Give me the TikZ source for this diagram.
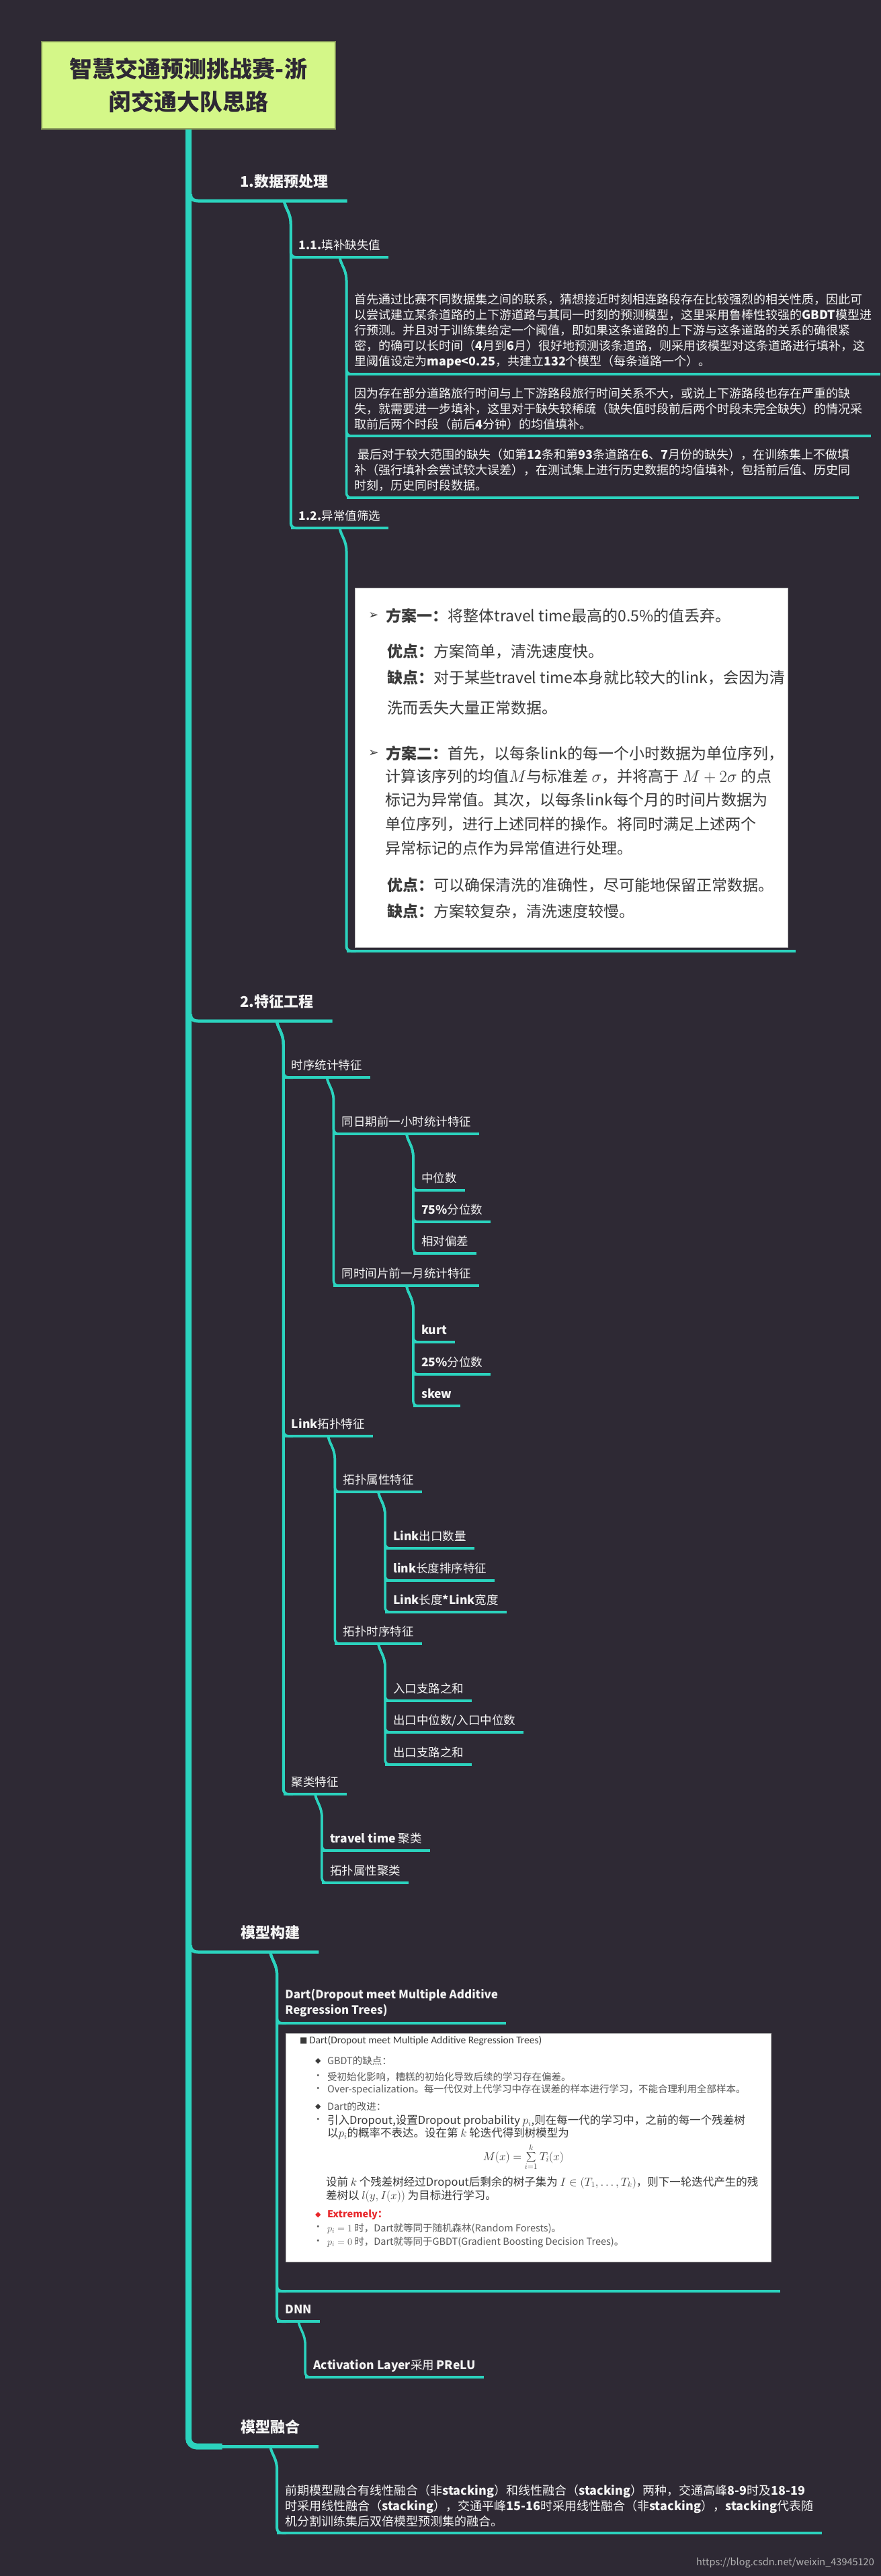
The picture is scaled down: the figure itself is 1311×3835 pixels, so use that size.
\documentclass[tikz,border=0pt]{standalone}
\usepackage{fontspec}
\setmainfont{Noto Sans CJK SC}
\newfontfamily\dejavu{DejaVu Sans}
\newfontfamily\carlito{Carlito}
\usetikzlibrary{calc}

\definecolor{bgcol}{HTML}{2E2934}
\definecolor{linecol}{HTML}{2BD3BE}
\definecolor{titlecol}{HTML}{D4F788}
\definecolor{titleedge}{HTML}{7E8F55}
\definecolor{titletext}{HTML}{2E2934}
\definecolor{labelcol}{HTML}{F4F4F4}
\definecolor{imgtext}{HTML}{3A3A3A}
\definecolor{imggray}{HTML}{5A5A5A}
\definecolor{imgred}{HTML}{E8262A}
\definecolor{markcol}{HTML}{B4B4B4}

\tikzset{
  trunk/.style={line width=9pt, draw=linecol},
  mainline/.style={line width=5pt, draw=linecol},
  conn/.style={line width=#1, draw=linecol, rounded corners=7pt},
  conn/.default=3.5pt,
  ul/.style={line width=#1, draw=linecol},
  ul/.default=3.5pt,
  titlebox/.style={fill=titlecol, draw=titleedge, line width=1.2pt, minimum width=437pt,
    minimum height=130pt, align=center, text=titletext, font=\fontsize{34}{49}\selectfont\bfseries},
  mainnode/.style={anchor=south west, inner xsep=28pt, inner ysep=17pt, text depth=3pt,
    text=labelcol, font=\fontsize{22}{26}\selectfont\bfseries},
  subnode/.style={anchor=south west, inner xsep=12pt, inner ysep=7pt, text depth=4pt,
    text=labelcol, font=\fontsize{17.5}{23}\selectfont},
  para/.style={anchor=south west, inner xsep=12pt, inner ysep=9pt, align=left,
    text=labelcol, font=\fontsize{18}{23}\selectfont},
  imgwrap/.style={anchor=south west, inner sep=0pt},
  imgbox/.style={fill=white, draw=gray!50, line width=1pt, inner sep=0pt},
  imgline/.style={anchor=west, inner sep=0pt, text=imgtext, font=\fontsize{23}{26}\selectfont},
  imgsmall/.style={imgline, text=imggray, font=\fontsize{14.5}{17}\selectfont},
  imgmid/.style={imgline, font=\fontsize{16.5}{19}\selectfont},
}

\newcommand{\branchto}[3][3.5pt]{%
  \draw[conn=#1] (#2.south) .. controls +(2,12) and +(0,-24) .. ++(10,42) |- ($(#3.south west)+(14,0)$);}

\begin{document}
\begin{tikzpicture}[x=1pt,y=-1pt]
\useasboundingbox (0,0) rectangle (1311,3835);
\fill[bgcol] (0,0) rectangle (1311,3835);

% root and main branches
\node[titlebox] (title) at (280.5,127) {智慧交通预测挑战赛-浙\\闵交通大队思路};
\node[mainnode] (prep) at (329,299) {1.数据预处理};
\node[mainnode] (feat) at (329,1520) {2.特征工程};
\node[mainnode] (model) at (330,2906) {模型构建};
\node[mainnode] (fuse) at (330,3642) {模型融合};

\draw[trunk, rounded corners=12pt] (title.south) |- ($(title.south |- fuse.south)+(50,0)$);
\draw[mainline] ($(title.south |- fuse.south)+(45,0)$) -- (fuse.south east);
\foreach \m in {prep,feat,model}
  \draw[mainline] ($(title.south |- \m.south)+(3,-10)$) .. controls +(0,8) and +(-6,0) .. ($(title.south |- \m.south)+(14,0)$) -- (\m.south east);

% 1. preprocessing
\node[subnode, xshift=10pt] (fill) at (prep.south |- 0,383) {\textbf{1.1.}填补缺失值};
\node[subnode, xshift=10pt] (outl) at (prep.south |- 0,786) {\textbf{1.2.}异常值筛选};

\node[para, xshift=10pt] (fa) at (fill.south |- 0,557) {首先通过比赛不同数据集之间的联系，猜想接近时刻相连路段存在比较强烈的相关性质，因此可\\以尝试建立某条道路的上下游道路与其同一时刻的预测模型，这里采用鲁棒性较强的\textbf{GBDT}模型进\\行预测。并且对于训练集给定一个阈值，即如果这条道路的上下游与这条道路的关系的确很紧\\密，的确可以长时间（\textbf{4}月到\textbf{6}月）很好地预测该条道路，则采用该模型对这条道路进行填补，这\\里阈值设定为\textbf{mape<0.25}，共建立\textbf{132}个模型（每条道路一个）。};
\node[para, xshift=10pt] (fb) at (fill.south |- 0,649) {因为存在部分道路旅行时间与上下游路段旅行时间关系不大，或说上下游路段也存在严重的缺\\失，就需要进一步填补，这里对于缺失较稀疏（缺失值时段前后两个时段未完全缺失）的情况采\\取前后两个时段（前后\textbf{4}分钟）的均值填补。};
\node[para, xshift=10pt] (fc) at (fill.south |- 0,741) {\hspace{5pt}最后对于较大范围的缺失（如第\textbf{12}条和第\textbf{93}条道路在\textbf{6}、\textbf{7}月份的缺失），在训练集上不做填\\补（强行填补会尝试较大误差），在测试集上进行历史数据的均值填补，包括前后值、历史同\\时刻，历史同时段数据。};

\node[imgwrap, minimum width=668pt, minimum height=545pt, xshift=10pt] (plan) at (outl.south |- 0,1416) {};
\node[imgbox, minimum width=644pt, minimum height=535pt] (planimg) at ($(plan.center)+(1,0)$) {};
\node[imgline, font=\dejavu\fontsize{18}{20}\selectfont] (pa1) at ($(planimg.north west)+(20,41)$) {➢};
\node[imgline] (pb1) at ($(planimg.north west)+(46,41)$) {\textbf{方案一：}将整体travel time最高的0.5\%的值丢弃。};
\node[imgline] (pb2) at ($(planimg.north west)+(48,95)$) {\textbf{优点：}方案简单，清洗速度快。};
\node[imgline] (pb3) at ($(planimg.north west)+(48,134)$) {\textbf{缺点：}对于某些travel time本身就比较大的link，会因为清};
\node[imgline] (pb4) at ($(planimg.north west)+(48,178)$) {洗而丢失大量正常数据。};
\node[imgline, font=\dejavu\fontsize{18}{20}\selectfont] (pa2) at ($(planimg.north west)+(20,246)$) {➢};
\node[imgline] (pb5) at ($(planimg.north west)+(46,246)$) {\textbf{方案二：}首先，以每条link的每一个小时数据为单位序列，};
\node[imgline] (pb6) at ($(planimg.north west)+(45,281)$) {计算该序列的均值$M$与标准差 $\sigma$，并将高于 $M+2\sigma$ 的点};
\node[imgline] (pb7) at ($(planimg.north west)+(45,316)$) {标记为异常值。其次，以每条link每个月的时间片数据为};
\node[imgline] (pb8) at ($(planimg.north west)+(45,352)$) {单位序列，进行上述同样的操作。将同时满足上述两个};
\node[imgline] (pb9) at ($(planimg.north west)+(45,387)$) {异常标记的点作为异常值进行处理。};
\node[imgline] (pb10) at ($(planimg.north west)+(48,443)$) {\textbf{优点：}可以确保清洗的准确性，尽可能地保留正常数据。};
\node[imgline] (pb11) at ($(planimg.north west)+(48,482)$) {\textbf{缺点：}方案较复杂，清洗速度较慢。};

\foreach \c in {fill,outl} \branchto[4pt]{prep}{\c};
\foreach \c in {fa,fb,fc} \branchto{fill}{\c};
\branchto[4pt]{outl}{plan};

% 2. features
\node[subnode, xshift=10pt] (ts) at (feat.south |- 0,1604) {时序统计特征};
\node[subnode, xshift=10pt] (topo) at (feat.south |- 0,2138) {\textbf{Link}拓扑特征};
\node[subnode, xshift=10pt] (clus) at (feat.south |- 0,2671) {聚类特征};
\node[subnode, xshift=10pt] (day) at (ts.south |- 0,1688) {同日期前一小时统计特征};
\node[subnode, xshift=10pt] (mon) at (ts.south |- 0,1914) {同时间片前一月统计特征};
\node[subnode, xshift=10pt] (med) at (day.south |- 0,1772) {中位数};
\node[subnode, xshift=10pt] (q75) at (day.south |- 0,1819) {\textbf{75\%}分位数};
\node[subnode, xshift=10pt] (rdev) at (day.south |- 0,1866) {相对偏差};
\node[subnode, xshift=10pt] (kurt) at (mon.south |- 0,1998) {\textbf{kurt}};
\node[subnode, xshift=10pt] (q25) at (mon.south |- 0,2046) {\textbf{25\%}分位数};
\node[subnode, xshift=10pt] (skew) at (mon.south |- 0,2093) {\textbf{skew}};
\node[subnode, xshift=10pt] (attr) at (topo.south |- 0,2221) {拓扑属性特征};
\node[subnode, xshift=10pt] (tstopo) at (topo.south |- 0,2447) {拓扑时序特征};
\node[subnode, xshift=10pt] (lout) at (attr.south |- 0,2305) {\textbf{Link}出口数量};
\node[subnode, xshift=10pt] (lrank) at (attr.south |- 0,2353) {\textbf{link}长度排序特征};
\node[subnode, xshift=10pt] (lsize) at (attr.south |- 0,2400) {\textbf{Link}长度\textbf{*Link}宽度};
\node[subnode, xshift=10pt] (insum) at (tstopo.south |- 0,2532) {入口支路之和};
\node[subnode, xshift=10pt] (midratio) at (tstopo.south |- 0,2579) {出口中位数/入口中位数};
\node[subnode, xshift=10pt] (outsum) at (tstopo.south |- 0,2627) {出口支路之和};
\node[subnode, xshift=10pt] (ttclus) at (clus.south |- 0,2755) {\textbf{travel time} 聚类};
\node[subnode, xshift=10pt] (topoclus) at (clus.south |- 0,2803) {拓扑属性聚类};

\foreach \c in {ts,topo,clus} \branchto[4pt]{feat}{\c};
\foreach \p/\c in {ts/day,ts/mon,day/med,day/q75,day/rdev,mon/kurt,mon/q25,mon/skew,
  topo/attr,topo/tstopo,attr/lout,attr/lrank,attr/lsize,tstopo/insum,tstopo/midratio,tstopo/outsum,
  clus/ttclus,clus/topoclus}
  \branchto{\p}{\c};

% model building
\node[para, font=\fontsize{17}{23}\selectfont\bfseries, xshift=10pt] (dart) at (model.south |- 0,3012) {Dart(Dropout meet Multiple Additive\\Regression Trees)};
\node[imgwrap, minimum width=748pt, minimum height=388pt, xshift=10pt] (dartimg) at (model.south |- 0,3411) {};
\node[imgbox, minimum width=722pt, minimum height=340pt] (dbox) at ($(dartimg.center)+(0,-19)$) {};
\node[subnode, xshift=10pt] (dnn) at (model.south |- 0,3456) {\textbf{DNN}};
\node[subnode, xshift=10pt] (act) at (dnn.south |- 0,3539) {\textbf{Activation Layer}采用 \textbf{PReLU}};

\node[imgline, font=\dejavu\fontsize{12}{14}\selectfont] (dm0) at ($(dbox.north west)+(21,11)$) {■};
\node[imgline, font=\carlito\fontsize{15.5}{18}\selectfont] (dq1) at ($(dbox.north west)+(35,11)$) {Dart(Dropout meet Multiple Additive Regression Trees)};
\node[imgline, font=\dejavu\fontsize{11}{13}\selectfont] (dm1) at ($(dbox.north west)+(44,41)$) {◆};
\node[imgsmall] (dq2) at ($(dbox.north west)+(62,41)$) {GBDT的缺点：};
\node[imgsmall] (db1) at ($(dbox.north west)+(41,65)$) {•};
\node[imgsmall] (dq3) at ($(dbox.north west)+(62,65)$) {受初始化影响，糟糕的初始化导致后续的学习存在偏差。};
\node[imgsmall] (db2) at ($(dbox.north west)+(41,84)$) {•};
\node[imgsmall] (dq4) at ($(dbox.north west)+(62,84)$) {Over-specialization。每一代仅对上代学习中存在误差的样本进行学习，不能合理利用全部样本。};
\node[imgline, font=\dejavu\fontsize{11}{13}\selectfont] (dm2) at ($(dbox.north west)+(44,109)$) {◆};
\node[imgsmall] (dq5) at ($(dbox.north west)+(62,109)$) {Dart的改进：};
\node[imgsmall] (db3) at ($(dbox.north west)+(41,130)$) {•};
\node[imgmid] (dq6) at ($(dbox.north west)+(62,130)$) {引入Dropout,设置Dropout probability $p_i$,则在每一代的学习中，之前的每一个残差树};
\node[imgmid] (dq7) at ($(dbox.north west)+(62,149)$) {以$p_i$的概率不表达。设在第 $k$ 轮迭代得到树模型为};
\node[imgmid, anchor=center] (dform) at ($(dbox.north west)+(354,184)$) {$\displaystyle M(x)=\sum_{i=1}^{k}T_i(x)$};
\node[imgmid] (dq8) at ($(dbox.north west)+(60,222)$) {设前 $k$ 个残差树经过Dropout后剩余的树子集为 $I\in(T_1,\ldots,T_k)$，则下一轮迭代产生的残};
\node[imgmid] (dq9) at ($(dbox.north west)+(60,242)$) {差树以 $l(y,I(x))$ 为目标进行学习。};
\node[imgline, text=imgred, font=\dejavu\fontsize{11}{13}\selectfont] (dm3) at ($(dbox.north west)+(44,270)$) {◆};
\node[imgsmall, text=imgred] (dq10) at ($(dbox.north west)+(62,270)$) {\textbf{Extremely：}};
\node[imgsmall] (db4) at ($(dbox.north west)+(41,290)$) {•};
\node[imgsmall] (dq11) at ($(dbox.north west)+(62,290)$) {$p_i=1$ 时，Dart就等同于随机森林(Random Forests)。};
\node[imgsmall] (db5) at ($(dbox.north west)+(41,311)$) {•};
\node[imgsmall] (dq12) at ($(dbox.north west)+(62,311)$) {$p_i=0$ 时，Dart就等同于GBDT(Gradient Boosting Decision Trees)。};

\foreach \c in {dart,dartimg,dnn} \branchto[4pt]{model}{\c};
\branchto{dnn}{act};

% model fusion
\node[para, xshift=10pt] (fusetext) at (fuse.south |- 0,3771) {前期模型融合有线性融合（非\textbf{stacking}）和线性融合（\textbf{stacking}）两种，交通高峰\textbf{8-9}时及\textbf{18-19}\\时采用线性融合（\textbf{stacking}），交通平峰\textbf{15-16}时采用线性融合（非\textbf{stacking}），\textbf{stacking}代表随\\机分割训练集后双倍模型预测集的融合。};
\branchto[4pt]{fuse}{fusetext};

% underlines
\foreach \n in {fill,outl,ts,topo,clus,dart,dnn,fusetext,plan,dartimg}
  \draw[ul=4pt] (\n.south west) -- (\n.south east);
\foreach \n in {fa,fb,fc,day,mon,med,q75,rdev,kurt,q25,skew,attr,tstopo,lout,lrank,lsize,
  insum,midratio,outsum,ttclus,topoclus,act}
  \draw[ul] (\n.south west) -- (\n.south east);

\node[anchor=east, text=markcol, inner sep=0pt, font=\fontsize{14.5}{16}\selectfont] (mark) at (1301,3815) {https://blog.csdn.net/weixin\_43945120};

\end{tikzpicture}
\end{document}
